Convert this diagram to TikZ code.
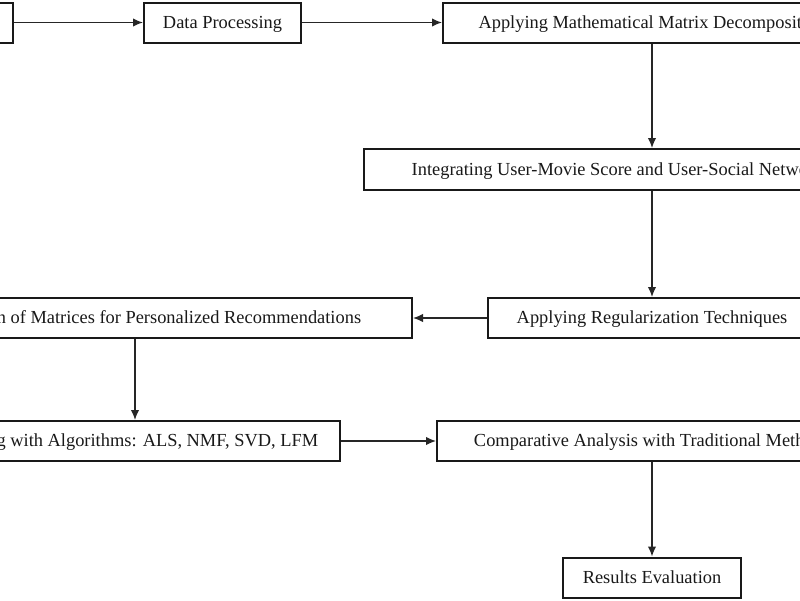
\documentclass[tikz,border=0pt]{standalone}
\usepackage{fontspec}
\setmainfont{Liberation Serif}
\usetikzlibrary{arrows.meta}
\begin{document}
\begin{tikzpicture}[x=1pt,y=-1pt,
  box/.style={draw=black!90, line width=2pt, fill=white, inner sep=0pt,
    minimum height=40pt, text height=13pt, text depth=2pt,
    font=\fontsize{18.4}{20}\selectfont, text=black!90},
  arr/.style={draw=black!85, line width=1.4pt, -{Latex[length=10pt,width=8.5pt]}}]
\useasboundingbox (0,0) rectangle (800,600);
\clip (0,0) rectangle (800,600);
\fill[white] (0,0) rectangle (800,600);
\node[box, minimum width=120pt] (n0) at (-47,22.5) {};
\node[box, minimum width=157pt] (dp) at (222.5,22.5) {Data Processing};
\node[box, minimum width=418pt] (amd) at (652,22.5) {Applying Mathematical Matrix Decomposition};
\node[box, minimum width=576pt, minimum height=41pt] (integ) at (652,169.5) {Integrating User-Movie Score and User-Social Network Matrices};
\node[box, minimum width=328pt] (reg) at (652,318) {Applying Regularization Techniques};
\node[box, minimum width=554pt] (opt) at (135,318) {Optimization of Matrices for Personalized Recommendations};
\node[box, minimum width=410pt] (test) at (135,441) {Testing with Algorithms: ALS, NMF, SVD, LFM};
\node[box, minimum width=430pt] (comp) at (652,441) {Comparative Analysis with Traditional Methods};
\node[box, minimum width=178pt] (res) at (652,577.5) {Results Evaluation};
\draw[arr] (n0.east) -- (dp.west);
\draw[arr] (dp.east) -- (amd.west);
\draw[arr] (amd.south) -- (integ.north);
\draw[arr] (integ.south) -- (reg.north);
\draw[arr] (reg.west) -- (opt.east);
\draw[arr] (opt.south) -- (test.north);
\draw[arr] (test.east) -- (comp.west);
\draw[arr] (comp.south) -- (res.north);
\end{tikzpicture}
\end{document}
